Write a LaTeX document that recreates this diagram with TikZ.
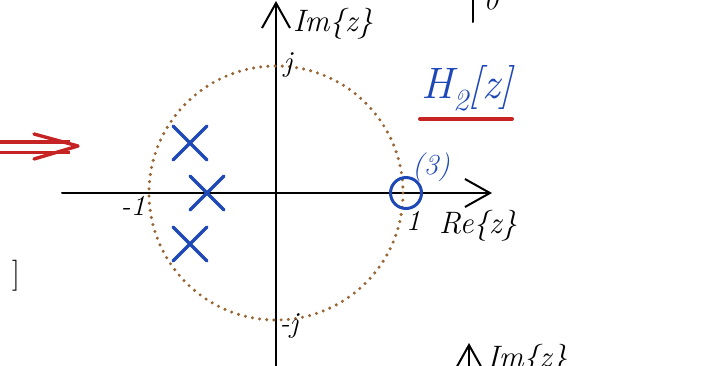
\documentclass[tikz,border=0pt]{standalone}
\usepackage{amsmath}
\usepackage{tikz}
\usetikzlibrary{arrows.meta,calc}
\definecolor{penblue}{RGB}{30,72,182}
\definecolor{penred}{RGB}{198,36,36}
\definecolor{dotbrown}{RGB}{152,102,52}

\begin{document}
\begin{tikzpicture}[x=1pt,y=-1pt,line cap=round,line join=round,
    axis/.style={line width=2pt,-{Straight Barb[length=25pt,width=28pt,line width=2pt]}},
    pole/.style={penblue,line width=3.4pt},
    hw/.style={inner sep=0pt,font=\fontsize{31}{33}\selectfont\itshape},
    small/.style={inner sep=0pt,font=\fontsize{29}{31}\selectfont\itshape}]
  \useasboundingbox (0,0) rectangle (711,365);
  \clip (0,0) rectangle (711,365);
  % axes of the z-plane
  \coordinate (o) at (276,193);
  \coordinate (xl) at (62,193);  \coordinate (xr) at (492,193);
  \coordinate (yb) at (276,370); \coordinate (yt) at (276,1);
  \draw[axis] (xl) -- (xr);
  \draw[axis] (yb) -- (yt);
  % unit circle
  \draw[dotbrown,line width=3.4pt,dash pattern=on 0pt off 7.2pt] (o) circle[radius=127];
  % poles
  \foreach \n/\px/\py in {p1/190/143,p2/207/193,p3/190/244} {
    \coordinate (\n) at (\px,\py);
    \draw[pole] ($(\n)+(-17,-17)$) -- ($(\n)+(17,17)$)
                ($(\n)+(-17,17)$) -- ($(\n)+(17,-17)$);
  }
  % triple zero at z=1
  \node[draw=penblue,circle,line width=3pt,minimum size=31pt,inner sep=0pt] (z1) at (406,193) {};
  \node[small,penblue] (mult) at (431,167) {(3)};
  % labels
  \node[small] (one) at (413,221) {1};
  \node[small] (mone) at (133,206) {-1};
  \node[small] (jj) at (288,65) {j};
  \node[small] (mj) at (289,326) {-j};
  \node[hw] (re) at (478,226) {Re\{z\}};
  \node[hw] (im) at (333,24) {Im\{z\}};
  \node[hw,penblue,font=\fontsize{44}{46}\selectfont\itshape] (h2) at (467,88) {H\textsubscript{2}[z]};
  \coordinate (ul) at (420,119); \coordinate (ur) at (512,119);
  \draw[penred,line width=4pt] (ul) -- (ur);
  % red double arrow from the left
  \coordinate (dl) at (-5,147); \coordinate (dr) at (70,147);
  \coordinate (tip) at (78,146);
  \coordinate (ha) at (34,134); \coordinate (hb) at (34,159);
  \draw[penred,line width=3.2pt,double=white,double distance=7pt,line cap=butt] (dl) -- (dr);
  \draw[penred,line width=3.4pt] (ha) -- (tip) -- (hb);
  % parts of neighbouring sketches
  \coordinate (tl) at (473,-2); \coordinate (tb) at (473,22);
  \draw[line width=2pt] (tl) -- (tb);
  \node[small,anchor=south] (zero) at (491,10) {0};
  \node[hw,font=\fontsize{31}{33}\selectfont,anchor=east] (br) at (20,276) {]};
  \coordinate (ab) at (469,372); \coordinate (at) at (469,343);
  \draw[axis] (ab) -- (at);
  \node[hw,anchor=west] (im2) at (487,360) {Im\{z\}};
\end{tikzpicture}
\end{document}
